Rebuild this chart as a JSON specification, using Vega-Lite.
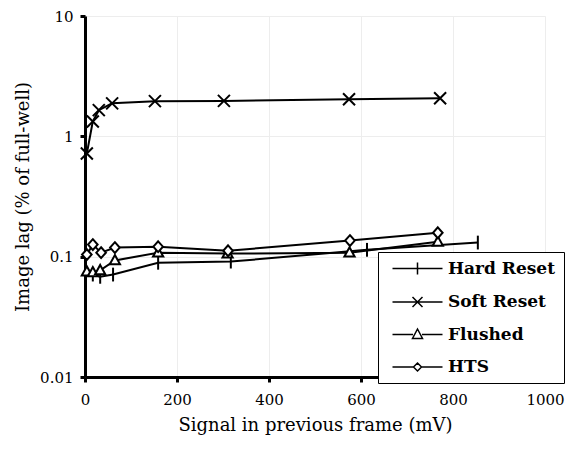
{
  "$schema": "https://vega.github.io/schema/vega-lite/v6.json",
  "autosize": "none",
  "width": 460,
  "height": 361,
  "padding": {"left": 85, "top": 16, "right": 33, "bottom": 75},
  "background": "white",
  "config": {"view": {"stroke": null}, "font": "DejaVu Serif"},
  "data": {
    "values": [
      {"series": "Hard Reset", "signal": 2, "lag": 0.076},
      {"series": "Hard Reset", "signal": 17, "lag": 0.071},
      {"series": "Hard Reset", "signal": 33, "lag": 0.068},
      {"series": "Hard Reset", "signal": 61, "lag": 0.071},
      {"series": "Hard Reset", "signal": 159, "lag": 0.089},
      {"series": "Hard Reset", "signal": 317, "lag": 0.091},
      {"series": "Hard Reset", "signal": 613, "lag": 0.114},
      {"series": "Hard Reset", "signal": 854, "lag": 0.131},
      {"series": "Soft Reset", "signal": 4, "lag": 0.72},
      {"series": "Soft Reset", "signal": 17, "lag": 1.33},
      {"series": "Soft Reset", "signal": 30, "lag": 1.65},
      {"series": "Soft Reset", "signal": 59, "lag": 1.88},
      {"series": "Soft Reset", "signal": 152, "lag": 1.96},
      {"series": "Soft Reset", "signal": 302, "lag": 1.97},
      {"series": "Soft Reset", "signal": 574, "lag": 2.03},
      {"series": "Soft Reset", "signal": 772, "lag": 2.07},
      {"series": "Flushed", "signal": 4, "lag": 0.075},
      {"series": "Flushed", "signal": 17, "lag": 0.074},
      {"series": "Flushed", "signal": 33, "lag": 0.077},
      {"series": "Flushed", "signal": 65, "lag": 0.093},
      {"series": "Flushed", "signal": 159, "lag": 0.108},
      {"series": "Flushed", "signal": 310, "lag": 0.106},
      {"series": "Flushed", "signal": 575, "lag": 0.108},
      {"series": "Flushed", "signal": 767, "lag": 0.133},
      {"series": "HTS", "signal": 4, "lag": 0.104},
      {"series": "HTS", "signal": 17, "lag": 0.126},
      {"series": "HTS", "signal": 35, "lag": 0.108},
      {"series": "HTS", "signal": 65, "lag": 0.119},
      {"series": "HTS", "signal": 159, "lag": 0.121},
      {"series": "HTS", "signal": 311, "lag": 0.112},
      {"series": "HTS", "signal": 576, "lag": 0.136},
      {"series": "HTS", "signal": 767, "lag": 0.158}
    ]
  },
  "encoding": {
    "x": {
      "field": "signal", "type": "quantitative",
      "scale": {"domain": [0, 1000], "nice": false},
      "axis": {
        "title": "Signal in previous frame (mV)",
        "values": [0, 200, 400, 600, 800, 1000],
        "format": "d",
        "domainColor": "black", "domainWidth": 3,
        "tickColor": "black", "tickWidth": 3, "tickSize": 5,
        "labelFont": "DejaVu Serif", "labelFontSize": 15, "labelColor": "black", "labelPadding": 10, "labelFlush": false,
        "titleFont": "DejaVu Serif", "titleFontSize": 18, "titleFontWeight": "normal", "titleColor": "black", "titlePadding": 9,
        "grid": true, "gridColor": "#ededed", "gridWidth": 1
      }
    },
    "y": {
      "field": "lag", "type": "quantitative",
      "scale": {"type": "log", "domain": [0.01, 10], "nice": false},
      "axis": {
        "title": "Image lag (% of full-well)",
        "values": [0.01, 0.1, 1, 10],
        "format": "~g",
        "domainColor": "black", "domainWidth": 3,
        "tickColor": "black", "tickWidth": 3, "tickSize": 5,
        "labelFont": "DejaVu Serif", "labelFontSize": 15, "labelColor": "black", "labelPadding": 7,
        "titleFont": "DejaVu Serif", "titleFontSize": 18, "titleFontWeight": "normal", "titleColor": "black", "titlePadding": 7,
        "grid": true, "gridColor": "#ededed", "gridWidth": 1
      }
    }
  },
  "layer": [
    {
      "mark": {"type": "line", "color": "black", "strokeWidth": 2},
      "encoding": {"detail": {"field": "series"}}
    },
    {
      "mark": {"type": "point", "filled": false, "fill": "white", "stroke": "black", "strokeWidth": 2, "size": 36, "opacity": 1},
      "encoding": {
        "shape": {
          "field": "series", "type": "nominal",
          "scale": {
            "domain": ["Hard Reset", "Soft Reset", "Flushed", "HTS"],
            "range": ["M0,-2.3V2.3", "M-2,-2L2,2M-2,2L2,-2", "M0,-1.8L1.7,1.3L-1.7,1.3Z", "M0,-1.8L1.6,0L0,1.8L-1.6,0Z"]
          },
          "legend": null
        }
      }
    },
    {
      "mark": {"type": "point", "filled": false, "fill": "white", "stroke": "black", "strokeWidth": 2, "size": 36, "opacity": 0},
      "encoding": {
        "shape": {
          "field": "series", "type": "nominal",
          "scale": {
            "domain": ["Hard Reset", "Soft Reset", "Flushed", "HTS"],
            "range": ["M-5,0H5M0,-1.2V1.2", "M-5,0H5M-1,-1L1,1M-1,1L1,-1", "M-5,0H-0.9M0.9,0H5M0,-1.1L1,0.8L-1,0.8Z", "M-5,0H-0.8M0.8,0H5M0,-0.8L0.8,0L0,0.8L-0.8,0Z"]
          },
          "legend": {
            "title": null,
            "orient": "none", "legendX": 293, "legendY": 236,
            "strokeColor": "black", "fillColor": "white", "padding": 8,
            "labelFont": "DejaVu Serif", "labelFontWeight": "bold", "labelFontSize": 17, "labelColor": "black", "labelLimit": 300,
            "symbolSize": 100,
            "symbolOffset": 23, "labelOffset": 22, "rowPadding": 14.5,
            "encode": {
              "legend": {"strokeWidth": {"value": 2}},
              "symbols": {
                "stroke": {"value": "black"},
                "fill": {"value": "white"},
                "strokeWidth": {"value": 2},
                "opacity": {"value": 1}
              }
            }
          }
        }
      }
    }
  ],
  "resolve": {"scale": {"shape": "independent"}, "legend": {"shape": "independent"}}
}
